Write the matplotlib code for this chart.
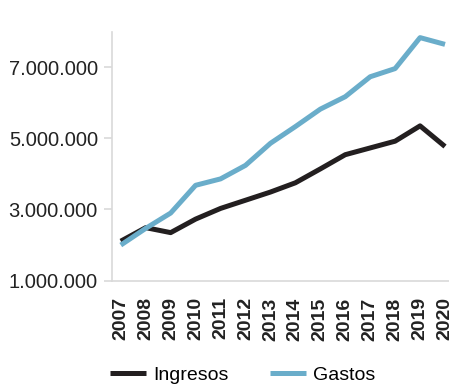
import matplotlib.pyplot as plt

# yearly series
years = ["2007", "2008", "2009", "2010", "2011", "2012", "2013",
         "2014", "2015", "2016", "2017", "2018", "2019", "2020"]
ingresos = [2110000, 2490000, 2350000, 2730000, 3030000, 3260000, 3490000,
            3750000, 4140000, 4540000, 4730000, 4920000, 5350000, 4770000]
gastos = [2000000, 2470000, 2900000, 3680000, 3860000, 4240000, 4860000,
          5330000, 5820000, 6170000, 6730000, 6960000, 7830000, 7640000]
yticks = [1000000, 3000000, 5000000, 7000000]

BLACK = "#231f20"
BLUE = "#6aadca"
GRID = "#d9d9d9"

plt.rcParams['font.family'] = ['Liberation Sans', 'DejaVu Sans']

fig = plt.figure(figsize=(4.49, 3.85), dpi=100)
ax = fig.add_axes([0.249, 0.271, 0.751, 0.647])

x = list(range(len(years)))
ax.plot(x, ingresos, color=BLACK, lw=3.6, label="Ingresos", solid_capstyle="butt")
ax.plot(x, gastos, color=BLUE, lw=3.6, label="Gastos", solid_capstyle="butt")

ax.set_xlim(-0.36, 13.16)
ax.set_ylim(1000000, 8000000)
ax.set_yticks(yticks)
ax.set_yticklabels(["{:,}".format(v).replace(",", ".") for v in yticks],
                   fontsize=14.5, color="#222222")
ax.set_xticks(x)
ax.set_xticklabels(years, rotation=90, fontsize=14, fontweight="bold",
                   color="#222222")

for side in ["top", "right"]:
    ax.spines[side].set_visible(False)
for side in ["left", "bottom"]:
    ax.spines[side].set_color(GRID)
    ax.spines[side].set_linewidth(1.2)
ax.tick_params(axis="y", length=6, color=GRID, width=1.2, pad=4)
ax.tick_params(axis="x", length=0, pad=12)

fig.legend(loc="lower left", bbox_to_anchor=(0.205, -0.043), ncol=2,
           frameon=False, fontsize=14, handlelength=1.9, handletextpad=0.35,
           columnspacing=2.1)

fig.savefig("out.png", dpi=100)
